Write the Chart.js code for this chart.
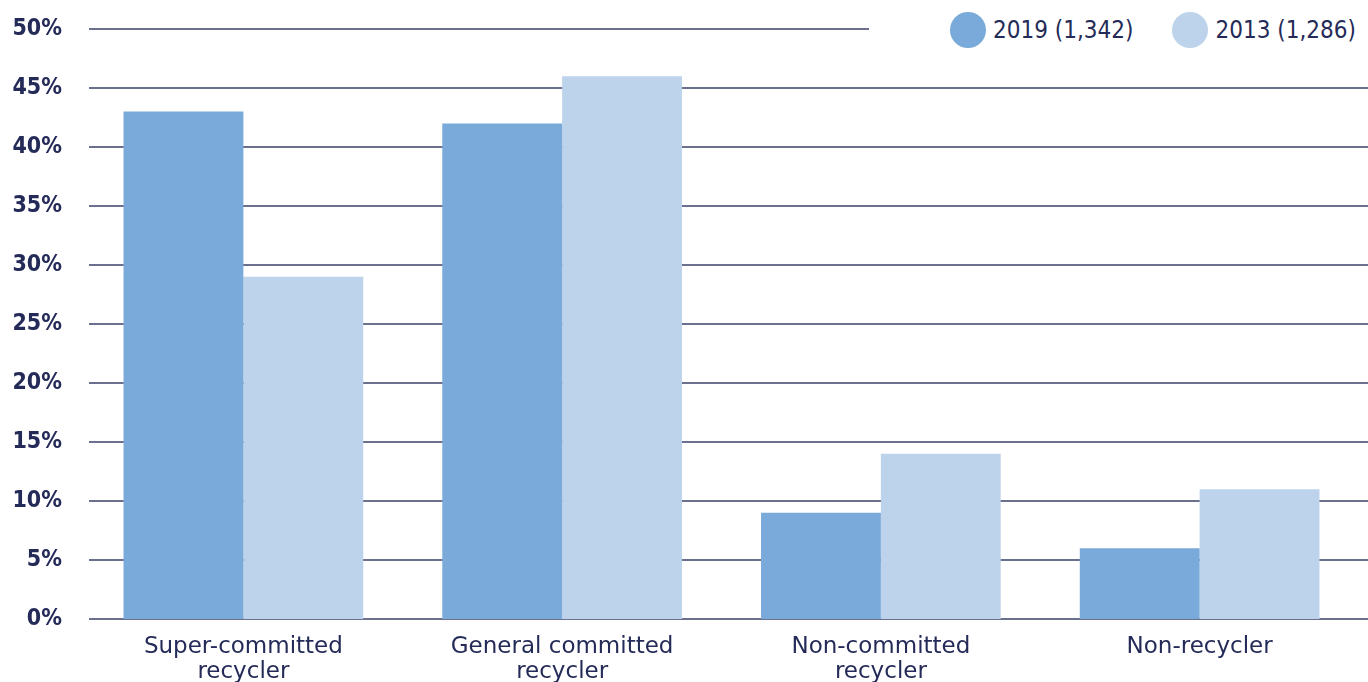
<!DOCTYPE html>
<html>
<head>
<meta charset="utf-8">
<title>Recycler types</title>
<script src="https://cdn.jsdelivr.net/npm/chart.js@4.4.1/dist/chart.umd.min.js"></script>
<style>
  html, body { margin: 0; padding: 0; background: #fff; }
  #wrap { position: relative; width: 1368px; height: 682px; overflow: hidden; }
  #legend {
    position: absolute; left: 869px; top: 12px; width: 499px; height: 36px;
    background: #fff; display: flex; align-items: center; box-sizing: border-box;
    padding-left: 81px; white-space: nowrap;
    font-family: "DejaVu Sans Condensed", "DejaVu Sans", sans-serif;
    font-size: 24px; color: #252b58;
  }
  .item { display: flex; align-items: center; margin-right: 39px; }
  .dot { flex: none; width: 36px; height: 36px; border-radius: 50%; margin-right: 7px; }
</style>
</head>
<body>
<div id="wrap">
  <canvas id="chart" width="1368" height="682"></canvas>
  <div id="legend"></div>
</div>
<script>
// recycler segments, share of respondents per survey year
const categories = [['Super-committed', 'recycler'], ['General committed', 'recycler'], ['Non-committed', 'recycler'], 'Non-recycler'];
const values2019 = [43, 42, 9, 6];
const values2013 = [29, 46, 14, 11];
const seriesNames = ['2019 (1,342)', '2013 (1,286)'];
const seriesColors = ['#7aaad9', '#bdd3eb'];
const yMax = 50;
const yStep = 5;

const TEXT = '#252b58';
const GRID = '#3b406a';

// grid lines start a bit right of the axis and run to the canvas edge
const gridLines = {
    id: 'gridLines',
    beforeDatasetsDraw(chart) {
        const ctx = chart.ctx;
        const y = chart.scales.y;
        ctx.save();
        ctx.strokeStyle = GRID;
        ctx.lineWidth = 1.4;
        y.ticks.forEach(t => {
            const py = y.getPixelForValue(t.value);
            ctx.beginPath();
            ctx.moveTo(89, py);
            ctx.lineTo(chart.width, py);
            ctx.stroke();
        });
        ctx.restore();
    }
};

// html legend with round swatches
function buildLegend() {
    const box = document.getElementById('legend');
    seriesNames.forEach((name, i) => {
        const item = document.createElement('div');
        item.className = 'item';
        item.innerHTML = `<span class="dot" style="background:${seriesColors[i]}"></span><span>${name}</span>`;
        box.appendChild(item);
    });
}

new Chart(document.getElementById('chart'), {
    type: 'bar',
    data: {
        labels: categories,
        datasets: [
            { label: seriesNames[0], data: values2019, backgroundColor: seriesColors[0] },
            { label: seriesNames[1], data: values2013, backgroundColor: seriesColors[1] }
        ]
    },
    options: {
        responsive: false,
        animation: false,
        events: [],
        categoryPercentage: 0.752,
        barPercentage: 1,
        layout: { padding: { top: 29, right: 9, left: 0, bottom: 0 } },
        plugins: {
            legend: { display: false },
            tooltip: { enabled: false }
        },
        scales: {
            x: {
                grid: { display: false },
                border: { display: false },
                afterFit: s => { s.height = 63; },
                ticks: {
                    autoSkip: false,
                    maxRotation: 0,
                    padding: 7,
                    color: TEXT,
                    font: { family: '"DejaVu Sans", sans-serif', size: 23, lineHeight: 1.09 }
                }
            },
            y: {
                min: 0,
                max: yMax,
                grid: { display: false },
                border: { display: false },
                afterFit: s => { s.width = 84; },
                ticks: {
                    stepSize: yStep,
                    padding: 14,
                    color: TEXT,
                    font: { family: '"DejaVu Sans Condensed", "DejaVu Sans", sans-serif', size: 23, weight: 'bold' },
                    callback: v => v + '%'
                }
            }
        }
    },
    plugins: [gridLines]
});

buildLegend();
</script>
</body>
</html>
